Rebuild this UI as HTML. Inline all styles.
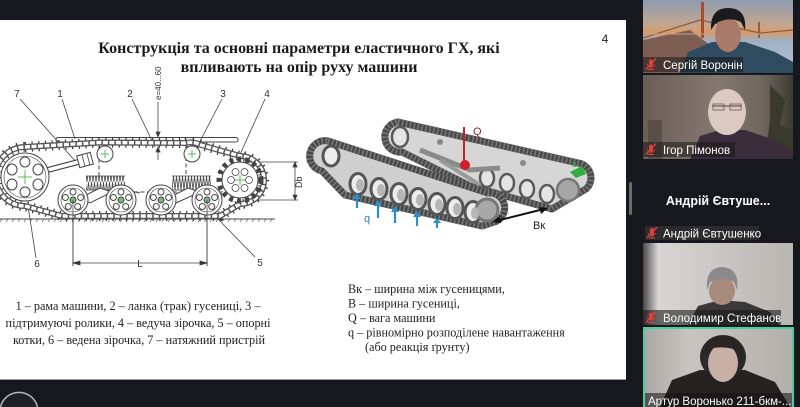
<!DOCTYPE html>
<html><head><meta charset="utf-8">
<style>
html,body{margin:0;padding:0;background:#16181d;width:800px;height:407px;overflow:hidden}
svg{position:absolute;left:0;top:0;display:block}
</style></head>
<body>
<svg width="800" height="407" viewBox="0 0 800 407" xmlns="http://www.w3.org/2000/svg">
<defs>
  <pattern id="coil" x="0" y="0" width="3" height="14" patternUnits="userSpaceOnUse">
    <path d="M0 14 L1.5 0 L3 14" fill="none" stroke="#444" stroke-width="0.8"/>
  </pattern>
  <pattern id="coil2" x="0" y="0" width="3" height="14" patternUnits="userSpaceOnUse" patternTransform="translate(172,176)">
    <path d="M0 14 L1.5 0 L3 14" fill="none" stroke="#444" stroke-width="0.8"/>
  </pattern>
  <clipPath id="t1"><rect x="643" y="0" width="150" height="73"/></clipPath>
  <clipPath id="t2"><rect x="643" y="75" width="150" height="84"/></clipPath>
  <clipPath id="t3"><rect x="643" y="243" width="150" height="82"/></clipPath>
  <clipPath id="t4"><rect x="643" y="327" width="151" height="80"/></clipPath>
  <linearGradient id="sky" x1="0" y1="0" x2="0" y2="1">
    <stop offset="0" stop-color="#8e9cb0"/><stop offset="0.35" stop-color="#c4a68e"/>
    <stop offset="0.45" stop-color="#dd9a64"/><stop offset="0.55" stop-color="#9fb0c2"/>
    <stop offset="1" stop-color="#b7c6d4"/>
  </linearGradient>
  <linearGradient id="wall2" x1="0" y1="0" x2="1" y2="0">
    <stop offset="0" stop-color="#6a5e58"/><stop offset="0.5" stop-color="#857870"/>
    <stop offset="0.8" stop-color="#6f665e"/><stop offset="1" stop-color="#3e3a32"/>
  </linearGradient>
  <linearGradient id="wall3" x1="0" y1="0" x2="1" y2="0">
    <stop offset="0" stop-color="#4a4848"/><stop offset="0.1" stop-color="#d8d6d4"/>
    <stop offset="0.6" stop-color="#c6c3c0"/><stop offset="1" stop-color="#b9b6b2"/>
  </linearGradient>
  <linearGradient id="wall4" x1="0" y1="0" x2="1" y2="0">
    <stop offset="0" stop-color="#a9a6a3"/><stop offset="0.3" stop-color="#c8c5c1"/>
    <stop offset="1" stop-color="#b3afab"/>
  </linearGradient>
  <g id="mic">
    <rect x="-2" y="-5" width="4" height="7" rx="2" fill="#e0403a"/>
    <path d="M-4 0 Q0 5 4 0 M0 3 V5 M-3 5 H3" stroke="#e0403a" stroke-width="1" fill="none"/>
    <path d="M-5 5 L5 -6" stroke="#e0403a" stroke-width="1.4"/>
  </g>
</defs>

<!-- slide -->
<rect x="0" y="20" width="626" height="360" fill="#ffffff"/>
<line x1="0" y1="379.5" x2="626" y2="379.5" stroke="#9a9a9a" stroke-width="1"/>

<!-- title -->
<text x="299" y="53" text-anchor="middle" font-family="Liberation Serif, serif" font-weight="bold" font-size="16" fill="#1a1a1a">Конструкція та основні параметри еластичного ГХ, які</text>
<text x="299" y="72" text-anchor="middle" font-family="Liberation Serif, serif" font-weight="bold" font-size="16" fill="#1a1a1a">впливають на опір руху машини</text>
<text x="605" y="43" text-anchor="middle" font-family="Liberation Sans, sans-serif" font-size="12" fill="#222">4</text>

<!-- LEFT DIAGRAM -->
<g font-family="Liberation Sans, sans-serif" font-size="10" fill="#333">
  <text x="17" y="97" text-anchor="middle">7</text>
  <text x="60" y="97" text-anchor="middle">1</text>
  <text x="130" y="97" text-anchor="middle">2</text>
  <text x="223" y="97" text-anchor="middle">3</text>
  <text x="267" y="97" text-anchor="middle">4</text>
  <text x="37" y="267" text-anchor="middle">6</text>
  <text x="260" y="266" text-anchor="middle">5</text>
  <text x="140" y="267" text-anchor="middle">L</text>
  <text transform="translate(161,100) rotate(-90)" font-size="8">e=40...60</text>
  <text transform="translate(302,188) rotate(-90)" font-size="9">Db</text>
</g>
<g stroke="#444" stroke-width="0.8" fill="none">
  <line x1="20" y1="99" x2="76" y2="162"/>
  <line x1="62" y1="99" x2="75" y2="139"/>
  <line x1="132" y1="99" x2="155" y2="147"/>
  <line x1="222" y1="99" x2="196" y2="149"/>
  <line x1="265" y1="99" x2="238" y2="159"/>
  <line x1="36" y1="258" x2="28" y2="206"/>
  <line x1="255" y1="257" x2="218" y2="219"/>
  <line x1="0" y1="219" x2="275" y2="219" stroke-width="1"/>
  <path d="M2 219 l-2 3 M8 219 l-2 3 M14 219 l-2 3 M20 219 l-2 3 M26 219 l-2 3 M32 219 l-2 3 M38 219 l-2 3 M44 219 l-2 3 M50 219 l-2 3 M56 219 l-2 3 M62 219 l-2 3 M68 219 l-2 3 M74 219 l-2 3 M80 219 l-2 3 M86 219 l-2 3 M92 219 l-2 3 M98 219 l-2 3 M104 219 l-2 3 M110 219 l-2 3 M116 219 l-2 3 M122 219 l-2 3 M128 219 l-2 3 M134 219 l-2 3 M140 219 l-2 3 M146 219 l-2 3 M152 219 l-2 3 M158 219 l-2 3 M164 219 l-2 3 M170 219 l-2 3 M176 219 l-2 3 M182 219 l-2 3 M188 219 l-2 3 M194 219 l-2 3 M200 219 l-2 3 M206 219 l-2 3 M212 219 l-2 3 M218 219 l-2 3 M224 219 l-2 3 M230 219 l-2 3 M236 219 l-2 3 M242 219 l-2 3 M248 219 l-2 3 M254 219 l-2 3 M260 219 l-2 3 M266 219 l-2 3 M272 219 l-2 3" stroke-width="0.6"/>
  <rect x="56" y="137.5" width="182" height="4.5" rx="2" stroke-width="1"/>
  <line x1="158" y1="102" x2="158" y2="136"/>
  <path d="M156 132 L158 137 L160 132 Z" fill="#333"/>
  <line x1="158" y1="148" x2="158" y2="160"/>
  <path d="M156 152 L158 147 L160 152 Z" fill="#333"/>
  <line x1="245" y1="162" x2="298" y2="162"/>
  <line x1="245" y1="200" x2="298" y2="200"/>
  <line x1="295" y1="162" x2="295" y2="200"/>
  <path d="M293 167 L295 162 L297 167 Z M293 195 L295 200 L297 195 Z" fill="#333"/>
  <line x1="73" y1="200" x2="73" y2="266"/>
  <line x1="207" y1="200" x2="207" y2="266"/>
  <line x1="73" y1="263" x2="207" y2="263"/>
  <path d="M73 263 L80 261 L80 265 Z M207 263 L200 261 L200 265 Z" fill="#333"/>
  <path d="M99 146 V176 M186 144 V176 M108 192 H236" stroke-dasharray="4 2.5" stroke-width="1"/>
</g>
<!-- track -->
<g fill="none">
  <path d="M25 147 L100 142.5 L185 143 Q193 141 201 145 L240 156 A24 24 0 0 1 240 204 L220 216 L62 216 L25 206 A29.5 29.5 0 0 1 25 147 Z" stroke="#333" stroke-width="10" stroke-dasharray="1.2 5.5"/>
  <path d="M25 147 L100 142.5 L185 143 Q193 141 201 145 L240 156 A24 24 0 0 1 240 204 L220 216 L62 216 L25 206 A29.5 29.5 0 0 1 25 147 Z" stroke="#555" stroke-width="6"/>
  <path d="M25 147 L100 142.5 L185 143 Q193 141 201 145 L240 156 A24 24 0 0 1 240 204 L220 216 L62 216 L25 206 A29.5 29.5 0 0 1 25 147 Z" stroke="#fff" stroke-width="3.4" stroke-dasharray="5 1.5"/>
</g>
<!-- tensioner -->
<g>
  <line x1="40" y1="172" x2="82" y2="161" stroke="#444" stroke-width="6"/>
  <line x1="40" y1="172" x2="82" y2="161" stroke="#fff" stroke-width="3.6"/>
  <rect x="78" y="154" width="14" height="12" fill="#fff" stroke="#444" stroke-width="1" transform="rotate(-15 85 160)"/>
  <line x1="82" y1="155" x2="85" y2="166" stroke="#444" stroke-width="0.8"/>
  <line x1="87" y1="154" x2="90" y2="165" stroke="#444" stroke-width="0.8"/>
</g>
<!-- idler 6 -->
<g stroke="#444" stroke-width="1" fill="#fff">
  <circle cx="25" cy="177" r="24"/>
  <circle cx="25" cy="177" r="21" fill="none" stroke-width="0.6"/>
  <ellipse cx="38" cy="184.5" rx="5" ry="5.5"/>
  <ellipse cx="25" cy="192" rx="5" ry="5"/>
  <ellipse cx="12" cy="184.5" rx="5" ry="5.5"/>
  <ellipse cx="12" cy="169.5" rx="5" ry="5.5"/>
  <ellipse cx="25" cy="162" rx="5" ry="5"/>
  <ellipse cx="38" cy="169.5" rx="5" ry="5.5"/>
</g>
<path d="M25 170 V184 M18 177 H32" stroke="#5cb85c" stroke-width="1"/>
<!-- sprocket 4 -->
<g stroke="#444" fill="#fff">
  <circle cx="240" cy="180" r="21" stroke-width="5" stroke-dasharray="4 4" fill="none"/>
  <circle cx="240" cy="180" r="18" stroke-width="1"/>
  <circle cx="249" cy="180" r="3.5" stroke-width="0.8"/>
  <circle cx="244.5" cy="188" r="3.5" stroke-width="0.8"/>
  <circle cx="235.5" cy="188" r="3.5" stroke-width="0.8"/>
  <circle cx="231" cy="180" r="3.5" stroke-width="0.8"/>
  <circle cx="235.5" cy="172" r="3.5" stroke-width="0.8"/>
  <circle cx="244.5" cy="172" r="3.5" stroke-width="0.8"/>
</g>
<path d="M240 175 V185 M235 180 H245" stroke="#5cb85c" stroke-width="1"/>
<!-- springs -->
<rect x="86" y="176" width="39" height="14" fill="url(#coil)"/>
<path d="M86 176 H125 M86 190 H125" stroke="#444" stroke-width="0.8"/>
<rect x="172" y="176" width="39" height="14" fill="url(#coil2)"/>
<path d="M172 176 H211 M172 190 H211" stroke="#444" stroke-width="0.8"/>
<g stroke="#444" stroke-width="1" fill="#fff">
  <path d="M80 198 L100 188 L112 192 L90 203 Z"/>
  <path d="M168 198 L188 188 L200 192 L176 203 Z"/>
  <path d="M125 190 L140 193 M211 190 L222 194"/>
</g>
<!-- road wheels -->
<g stroke="#444" stroke-width="1" fill="#fff">
  <g transform="translate(73,200)"><circle r="15"/><circle r="12" stroke-width="0.6"/><circle cx="0" cy="-8" r="3"/><circle cx="7.6" cy="-2.5" r="3"/><circle cx="4.7" cy="6.5" r="3"/><circle cx="-4.7" cy="6.5" r="3"/><circle cx="-7.6" cy="-2.5" r="3"/><circle r="3" fill="#7ab87a"/></g>
  <g transform="translate(121,200)"><circle r="15"/><circle r="12" stroke-width="0.6"/><circle cx="0" cy="-8" r="3"/><circle cx="7.6" cy="-2.5" r="3"/><circle cx="4.7" cy="6.5" r="3"/><circle cx="-4.7" cy="6.5" r="3"/><circle cx="-7.6" cy="-2.5" r="3"/><circle r="3" fill="#7ab87a"/></g>
  <g transform="translate(161,200)"><circle r="15"/><circle r="12" stroke-width="0.6"/><circle cx="0" cy="-8" r="3"/><circle cx="7.6" cy="-2.5" r="3"/><circle cx="4.7" cy="6.5" r="3"/><circle cx="-4.7" cy="6.5" r="3"/><circle cx="-7.6" cy="-2.5" r="3"/><circle r="3" fill="#7ab87a"/></g>
  <g transform="translate(207,200)"><circle r="15"/><circle r="12" stroke-width="0.6"/><circle cx="0" cy="-8" r="3"/><circle cx="7.6" cy="-2.5" r="3"/><circle cx="4.7" cy="6.5" r="3"/><circle cx="-4.7" cy="6.5" r="3"/><circle cx="-7.6" cy="-2.5" r="3"/><circle r="3" fill="#7ab87a"/></g>
  <circle cx="105" cy="154" r="8"/>
  <circle cx="192" cy="154" r="8"/>
</g>
<path d="M105 150 V158 M101 154 H109 M192 150 V158 M188 154 H196" stroke="#5cb85c" stroke-width="1"/>
<line x1="73" y1="200" x2="73" y2="266" stroke="#444" stroke-width="0.8"/>
<line x1="207" y1="200" x2="207" y2="266" stroke="#444" stroke-width="0.8"/>

<!-- RIGHT 3D TRACKS -->
<path d="M398 122 L578 163 A15 15 0 0 1 586 189 L552 209 L470 186 L402 152 A15 15 0 0 1 398 122 Z" fill="#d6d6d6" stroke="#4a4a4a" stroke-width="7" stroke-linejoin="round"/>
<path d="M398 122 L578 163 A15 15 0 0 1 586 189 L552 209 L470 186 L402 152 A15 15 0 0 1 398 122 Z" fill="none" stroke="#777" stroke-width="7" stroke-dasharray="1.5 2.5"/>
<g stroke="#5a5a5a" stroke-width="2.5" fill="#e4e4e4">
  <ellipse cx="400" cy="137" rx="8" ry="10"/>
  <ellipse cx="487" cy="178" rx="7" ry="9"/>
  <ellipse cx="507" cy="183" rx="7" ry="9"/>
  <ellipse cx="527" cy="189" rx="7" ry="9"/>
  <ellipse cx="547" cy="194" rx="7" ry="9"/>
  <circle cx="568" cy="190" r="11" fill="#a6a6a6" stroke="#777"/>
</g>
<path d="M420 150 L470 170 L500 168" stroke="#8a8a8a" stroke-width="5" fill="none"/>
<path d="M440 160 L480 185" stroke="#9a9a9a" stroke-width="4" fill="none"/>
<circle cx="440" cy="142" r="3" fill="#888"/>
<circle cx="523" cy="163" r="3" fill="#888"/>
<path d="M328 141 L488 193 A15 15 0 0 1 497 221 L482 226 L345 195 L322 171 A15 15 0 0 1 328 141 Z" fill="#cfcfcf" stroke="#484848" stroke-width="7" stroke-linejoin="round"/>
<path d="M328 141 L488 193 A15 15 0 0 1 497 221 L482 226 L345 195 L322 171 A15 15 0 0 1 328 141 Z" fill="none" stroke="#7a7a7a" stroke-width="7" stroke-dasharray="1.5 2.5"/>
<g stroke="#555" stroke-width="3" fill="#ececec">
  <ellipse cx="331" cy="156" rx="8" ry="10"/>
  <ellipse cx="358" cy="184" rx="8" ry="10.5"/>
  <ellipse cx="379" cy="189" rx="8" ry="10.5"/>
  <ellipse cx="399" cy="194" rx="8" ry="10.5"/>
  <ellipse cx="418" cy="199" rx="8" ry="10.5"/>
  <ellipse cx="437" cy="204" rx="8" ry="10.5"/>
  <ellipse cx="455" cy="208" rx="8" ry="10.5"/>
  <ellipse cx="473" cy="212" rx="8" ry="10.5"/>
  <circle cx="487" cy="210" r="11" fill="#a8a8a8" stroke="#777"/>
</g>
<g fill="#b5b5b5">
  <ellipse cx="360" cy="185" rx="4" ry="6"/><ellipse cx="381" cy="190" rx="4" ry="6"/>
  <ellipse cx="401" cy="195" rx="4" ry="6"/><ellipse cx="420" cy="200" rx="4" ry="6"/>
  <ellipse cx="439" cy="205" rx="4" ry="6"/><ellipse cx="457" cy="209" rx="4" ry="6"/>
  <ellipse cx="475" cy="213" rx="4" ry="6"/>
</g>
<line x1="464" y1="127" x2="464" y2="162" stroke="#c8202a" stroke-width="2"/>
<circle cx="465" cy="165" r="5" fill="#d0202e"/>
<text x="473" y="135" font-family="Liberation Sans, sans-serif" font-size="11" fill="#a0202a">Q</text>
<path d="M570 172 L582 166 L586 174 L576 178 Z" fill="#2fae3f"/>
<text x="572" y="167" font-family="Liberation Sans, sans-serif" font-size="7" fill="#2fae3f">B</text>
<g stroke="#2a8fd2" stroke-width="2.2" fill="#2a8fd2">
  <line x1="357" y1="208" x2="357" y2="198"/><path d="M353 199 L357 193 L361 199 Z" stroke="none"/>
  <line x1="378" y1="218" x2="378" y2="205"/><path d="M374 206 L378 200 L382 206 Z" stroke="none"/>
  <line x1="395" y1="223" x2="395" y2="211"/><path d="M391 212 L395 206 L399 212 Z" stroke="none"/>
  <line x1="417" y1="226" x2="417" y2="216"/><path d="M413 217 L417 211 L421 217 Z" stroke="none"/>
  <line x1="437" y1="228" x2="437" y2="222"/><path d="M433 223 L437 218 L441 223 Z" stroke="none"/>
</g>
<text x="364" y="222" font-family="Liberation Sans, sans-serif" font-size="11" fill="#2a7fc0">q</text>
<line x1="496" y1="221" x2="544" y2="209" stroke="#111" stroke-width="2"/>
<path d="M492 222 L500 216 L501 223 Z M548 208 L539 207 L541 214 Z" fill="#111"/>
<text x="533" y="229" font-family="Liberation Sans, sans-serif" font-size="11" fill="#222">Вк</text>

<!-- captions -->
<g font-family="Liberation Serif, serif" font-size="12.2" fill="#222" text-anchor="middle">
  <text x="138" y="310">1 – рама машини, 2 – ланка (трак) гусениці, 3 –</text>
  <text x="138" y="327">підтримуючі ролики, 4 – ведуча зірочка, 5 – опорні</text>
  <text x="139" y="344">котки, 6 – ведена зірочка, 7 – натяжний пристрій</text>
</g>
<g font-family="Liberation Serif, serif" font-size="12.2" fill="#222">
  <text x="348" y="293">Вк – ширина між гусеницями,</text>
  <text x="348" y="307.5">В – ширина гусениці,</text>
  <text x="348" y="322">Q – вага машини</text>
  <text x="348" y="336.5">q – рівномірно розподілене навантаження</text>
  <text x="365" y="351">(або реакція ґрунту)</text>
</g>

<!-- bottom-left button (arc, kept inside frame) -->
<path d="M0.5 407 A19 19 0 0 1 37.5 407 Z" fill="#1e2025"/>
<path d="M0.5 407 A19 19 0 0 1 37.5 407" fill="none" stroke="#b8b8b8" stroke-width="1.5"/>

<rect x="629" y="182" width="3" height="33" rx="1.5" fill="#6c6c6c"/>

<!-- TILE 1 -->
<g clip-path="url(#t1)">
  <rect x="643" y="0" width="150" height="73" fill="url(#sky)"/>
  <path d="M643 40 L690 30 L710 45 L690 73 L643 73 Z" fill="#7e5e52"/>
  <path d="M643 38 L700 20 L760 33 L793 30" stroke="#8a5a40" stroke-width="1.2" fill="none"/>
  <rect x="701" y="2" width="3" height="36" fill="#a84c2c"/>
  <rect x="758" y="22" width="2" height="16" fill="#9a5a44"/>
  <path d="M643 34 H793" stroke="#c0a090" stroke-width="1"/>
  <path d="M680 73 L688 52 L712 42 L745 42 L775 52 L793 62 L793 73 Z" fill="#2e4b5f"/>
  <ellipse cx="728" cy="35" rx="13" ry="17" fill="#a87a6a"/>
  <path d="M711 30 Q710 8 728 8 Q747 8 745 30 L741 22 Q728 16 715 24 Z" fill="#1b1a1c"/>
</g>
<rect x="643" y="57" width="100" height="15" fill="#1a1a1a" fill-opacity="0.55"/>
<use href="#mic" x="651" y="64.5"/>
<text x="663" y="69" font-family="Liberation Sans, sans-serif" font-size="11.5" fill="#fff">Сергій Воронін</text>

<!-- TILE 2 -->
<g clip-path="url(#t2)">
  <rect x="643" y="75" width="150" height="84" fill="url(#wall2)"/>
  <rect x="648" y="120" width="14" height="39" fill="#5a4e48"/>
  <path d="M770 85 L785 100 L780 125 L793 130 L793 159 L765 159 L770 120 Z" fill="#3a3a2c"/>
  <path d="M690 159 L700 136 L720 130 L745 130 L775 140 L793 152 L793 159 Z" fill="#3b2d3b"/>
  <ellipse cx="727" cy="112" rx="19" ry="23" fill="#dcc9c0"/>
  <path d="M712 106 H742" stroke="#6a5a58" stroke-width="1.2"/>
  <rect x="713" y="104" width="11" height="6" fill="none" stroke="#6a5a58" stroke-width="0.8"/>
  <rect x="730" y="104" width="11" height="6" fill="none" stroke="#6a5a58" stroke-width="0.8"/>
</g>
<rect x="643" y="142" width="92" height="15" fill="#1a1a1a" fill-opacity="0.55"/>
<use href="#mic" x="651" y="149.5"/>
<text x="663" y="154" font-family="Liberation Sans, sans-serif" font-size="11.5" fill="#fff">Ігор Пімонов</text>

<!-- Andrii -->
<text x="718" y="205" text-anchor="middle" font-family="Liberation Sans, sans-serif" font-weight="bold" font-size="12.5" fill="#fff">Андрій Євтуше...</text>
<rect x="645" y="226" width="114" height="14" fill="#2c2c2e"/>
<use href="#mic" x="652" y="233"/>
<text x="663" y="237.5" font-family="Liberation Sans, sans-serif" font-size="11.5" fill="#fff">Андрій Євтушенко</text>

<!-- TILE 3 -->
<g clip-path="url(#t3)">
  <rect x="643" y="243" width="150" height="82" fill="url(#wall3)"/>
  <path d="M688 325 L698 306 L720 300 L745 302 L770 312 L780 325 Z" fill="#3a3838"/>
  <ellipse cx="722" cy="291" rx="13" ry="14" fill="#a88a7a"/>
  <path d="M707 290 Q705 268 722 267 Q740 268 737 290 L734 282 Q722 276 710 282 Z" fill="#8a8a8c"/>
</g>
<rect x="643" y="310" width="138" height="15" fill="#1a1a1a" fill-opacity="0.6"/>
<use href="#mic" x="651" y="317.5"/>
<text x="663" y="322" font-family="Liberation Sans, sans-serif" font-size="11.5" fill="#fff">Володимир Стефанов</text>

<!-- TILE 4 -->
<g clip-path="url(#t4)">
  <rect x="643" y="327" width="151" height="80" fill="url(#wall4)"/>
  <path d="M660 407 L672 380 L700 370 L745 370 L775 382 L790 407 Z" fill="#262222"/>
  <ellipse cx="723" cy="357" rx="23" ry="22" fill="#2a2828"/>
  <ellipse cx="723" cy="363" rx="15" ry="19" fill="#c8b0a6"/>
  <path d="M706 350 Q708 335 723 336 Q740 336 741 352 Q724 344 706 350 Z" fill="#2a2422"/>
  <rect x="645" y="393" width="148" height="14" fill="#111" fill-opacity="0.55"/>
</g>
<path d="M644 407 V328 H793 V407" fill="none" stroke="#3fd3a0" stroke-width="2"/>
<text x="648" y="405" font-family="Liberation Sans, sans-serif" font-size="11.5" fill="#fff">Артур Воронько 211-бкм-...</text>
</svg>
</body></html>
